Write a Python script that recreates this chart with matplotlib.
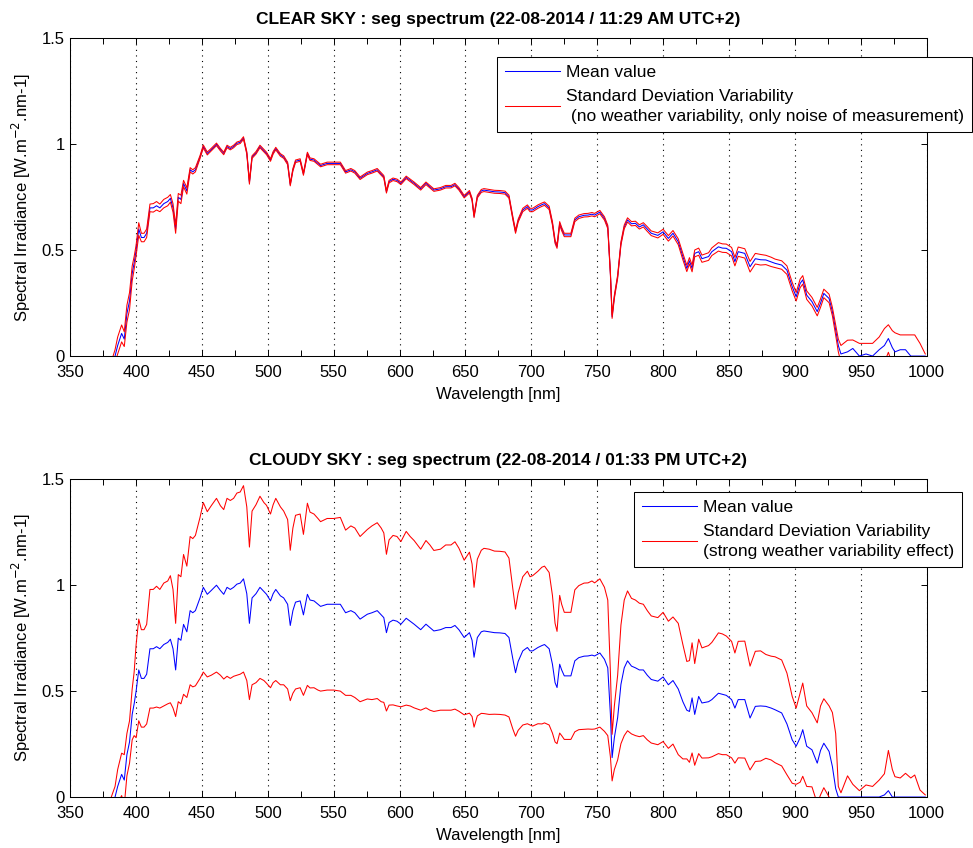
import matplotlib
matplotlib.use('Agg')
import matplotlib.pyplot as plt
from matplotlib.ticker import MultipleLocator, FormatStrFormatter

plt.rcParams['font.family'] = ['Liberation Sans', 'DejaVu Sans']
plt.rcParams['font.size'] = 12

# wavelength grid, part a (up to ~775 nm) and part b (after)
wl_a = [380, 384, 386, 389, 391, 393, 395, 397, 398.5, 400,
        402, 404, 406, 408, 410.5, 413, 415.5, 418, 421, 424,
        426, 428, 430, 432, 434, 436, 438.5, 441, 443, 445,
        448.5, 451, 454, 457, 461, 464, 466.5, 469, 471.5, 474,
        476.5, 479, 481.5, 484, 486, 488, 491, 494, 497, 499,
        502, 504, 506, 509.5, 512, 515, 517, 519, 521, 524.5,
        527, 530, 532, 535, 538, 540, 545, 550, 555, 559,
        563, 566, 570, 575.5, 579, 583, 586, 588, 590, 592,
        595, 598, 601, 605, 608, 611, 616, 620, 623, 626,
        631, 635, 639, 642, 645, 649, 653, 655, 656.5, 659,
        662, 664, 668, 672, 676, 680, 683, 686, 688, 690,
        693.5, 697, 699, 701, 705, 708, 710, 713.5, 716, 718,
        719.5, 721.5, 723, 725, 730, 733, 736, 740, 743, 746,
        748, 752, 755.5, 758, 760, 761.3, 763, 765.5, 768, 770.5,
        773]
wl_b = [776, 779, 782, 785, 788, 791, 796, 800, 804, 807.5,
        811.5, 815, 818, 820, 822, 824, 827, 829.5, 834.5, 837,
        842, 845, 848, 852, 854.5, 857, 862, 866, 870, 874,
        878, 882, 885, 890, 894, 898, 901, 904, 906, 909,
        913, 917, 919.5, 922, 926, 928.5, 931, 933, 935, 940,
        944, 949, 954, 959, 964, 968, 971, 974, 976, 980,
        984, 988, 991, 995, 999]

# mean spectrum (same for both skies below ~775 nm)
mean_a = [-0.05, 0.0, 0.05, 0.107, 0.08, 0.2, 0.26, 0.39, 0.44, 0.5,
          0.6, 0.56, 0.56, 0.58, 0.7, 0.70, 0.71, 0.70, 0.72, 0.73,
          0.745, 0.70, 0.6, 0.75, 0.74, 0.815, 0.78, 0.88, 0.87, 0.88,
          0.94, 0.99, 0.957, 0.975, 1.0, 0.975, 0.957, 0.99, 0.98, 0.99,
          1.005, 1.01, 1.03, 0.96, 0.82, 0.94, 0.96, 0.99, 0.97, 0.957,
          0.926, 0.96, 0.98, 0.95, 0.94, 0.91, 0.81, 0.88, 0.92, 0.926,
          0.86, 0.957, 0.93, 0.926, 0.91, 0.90, 0.91, 0.91, 0.91, 0.87,
          0.88, 0.87, 0.84, 0.863, 0.87, 0.88, 0.86, 0.847, 0.776, 0.824,
          0.835, 0.83, 0.816, 0.844, 0.83, 0.816, 0.79, 0.816, 0.80, 0.784,
          0.79, 0.80, 0.80, 0.81, 0.79, 0.753, 0.776, 0.74, 0.66, 0.753,
          0.78, 0.784, 0.78, 0.776, 0.775, 0.772, 0.753, 0.65, 0.587, 0.64,
          0.69, 0.706, 0.69, 0.69, 0.706, 0.715, 0.72, 0.70, 0.627, 0.54,
          0.517, 0.627, 0.60, 0.572, 0.572, 0.643, 0.658, 0.665, 0.666, 0.67,
          0.666, 0.68, 0.65, 0.61, 0.39, 0.186, 0.28, 0.375, 0.532, 0.61,
          0.643]
clear_mean_b = [0.625, 0.627, 0.61, 0.62, 0.60, 0.58, 0.57, 0.587, 0.556, 0.58,
                0.54, 0.47, 0.414, 0.45, 0.414, 0.485, 0.493, 0.46, 0.47, 0.493,
                0.516, 0.51, 0.509, 0.493, 0.446, 0.493, 0.485, 0.422, 0.46, 0.455,
                0.454, 0.445, 0.438, 0.43, 0.406, 0.328, 0.28, 0.343, 0.36, 0.288,
                0.257, 0.21, 0.25, 0.296, 0.272, 0.21, 0.123, 0.05, 0.01, 0.02,
                0.036, 0.0, 0.01, 0.0, 0.03, 0.05, 0.083, 0.04, 0.02, 0.03,
                0.03, 0.0, 0.0, 0.0, 0.0]
cloudy_mean_b = [0.618, 0.61, 0.60, 0.60, 0.575, 0.555, 0.547, 0.567, 0.53, 0.55,
                 0.51, 0.45, 0.41, 0.404, 0.468, 0.39, 0.475, 0.444, 0.45, 0.46,
                 0.49, 0.485, 0.48, 0.46, 0.42, 0.46, 0.46, 0.373, 0.428, 0.43,
                 0.428, 0.42, 0.412, 0.397, 0.345, 0.27, 0.24, 0.28, 0.318, 0.24,
                 0.223, 0.16, 0.22, 0.254, 0.215, 0.144, 0.04, 0.0, 0.0, 0.0,
                 0.0, 0.0, 0.0, 0.0, 0.0, 0.01, 0.03, 0.0, 0.0, 0.0,
                 0.0, 0.0, 0.0, 0.0, 0.0]

# standard deviation, clear sky
clear_std_a = [0.0, 0.03, 0.04, 0.04, 0.035, 0.04, 0.04, 0.035, 0.03, 0.025,
               0.03, 0.02, 0.02, 0.02, 0.018, 0.02, 0.02, 0.018, 0.02, 0.02,
               0.018, 0.02, 0.02, 0.018, 0.02, 0.015, 0.015, 0.01, 0.01, 0.01,
               0.007, 0.007, 0.007, 0.006, 0.006, 0.006, 0.006, 0.006, 0.006, 0.006,
               0.006, 0.006, 0.006, 0.006, 0.008, 0.006, 0.006, 0.006, 0.006, 0.006,
               0.006, 0.006, 0.006, 0.006, 0.006, 0.006, 0.006, 0.006, 0.006, 0.006,
               0.006, 0.006, 0.006, 0.006, 0.006, 0.006, 0.006, 0.006, 0.006, 0.006,
               0.006, 0.006, 0.006, 0.006, 0.006, 0.006, 0.006, 0.006, 0.006, 0.006,
               0.006, 0.006, 0.006, 0.006, 0.006, 0.006, 0.006, 0.006, 0.006, 0.006,
               0.006, 0.006, 0.006, 0.006, 0.006, 0.006, 0.006, 0.006, 0.006, 0.006,
               0.007, 0.007, 0.007, 0.007, 0.007, 0.007, 0.007, 0.007, 0.007, 0.007,
               0.008, 0.008, 0.008, 0.008, 0.008, 0.008, 0.008, 0.008, 0.008, 0.008,
               0.008, 0.008, 0.008, 0.008, 0.008, 0.008, 0.008, 0.008, 0.008, 0.008,
               0.008, 0.008, 0.008, 0.008, 0.008, 0.008, 0.008, 0.008, 0.008, 0.009,
               0.01]
clear_std_b = [0.01, 0.01, 0.01, 0.01, 0.011, 0.011, 0.012, 0.012, 0.013, 0.013,
               0.014, 0.015, 0.015, 0.015, 0.016, 0.016, 0.017, 0.017, 0.018, 0.018,
               0.02, 0.02, 0.02, 0.02, 0.02, 0.022, 0.022, 0.025, 0.025, 0.025,
               0.022, 0.022, 0.02, 0.02, 0.02, 0.02, 0.02, 0.02, 0.02, 0.02,
               0.02, 0.02, 0.02, 0.02, 0.02, 0.02, 0.025, 0.03, 0.04, 0.055,
               0.04, 0.06, 0.05, 0.06, 0.06, 0.08, 0.065, 0.08, 0.09, 0.07,
               0.07, 0.1, 0.1, 0.06, 0.01]

# standard deviation, cloudy sky
cloudy_std_a = [0.03, 0.05, 0.08, 0.1, 0.12, 0.1, 0.1, 0.12, 0.15, 0.22,
                0.24, 0.23, 0.23, 0.235, 0.28, 0.28, 0.285, 0.28, 0.29, 0.29,
                0.30, 0.28, 0.22, 0.30, 0.30, 0.33, 0.31, 0.35, 0.35, 0.355,
                0.38, 0.40, 0.39, 0.40, 0.41, 0.40, 0.40, 0.42, 0.42, 0.42,
                0.43, 0.43, 0.44, 0.41, 0.36, 0.41, 0.42, 0.43, 0.42, 0.42,
                0.41, 0.42, 0.43, 0.42, 0.41, 0.40, 0.355, 0.39, 0.41, 0.41,
                0.38, 0.43, 0.415, 0.41, 0.405, 0.40, 0.405, 0.405, 0.41, 0.39,
                0.40, 0.40, 0.39, 0.40, 0.41, 0.415, 0.41, 0.40, 0.37, 0.39,
                0.40, 0.40, 0.39, 0.41, 0.40, 0.395, 0.38, 0.395, 0.39, 0.38,
                0.38, 0.39, 0.39, 0.395, 0.385, 0.365, 0.38, 0.36, 0.33, 0.37,
                0.385, 0.39, 0.39, 0.385, 0.385, 0.385, 0.375, 0.33, 0.30, 0.325,
                0.35, 0.36, 0.35, 0.355, 0.36, 0.37, 0.37, 0.36, 0.325, 0.28,
                0.265, 0.325, 0.31, 0.30, 0.30, 0.335, 0.34, 0.345, 0.345, 0.35,
                0.345, 0.35, 0.34, 0.32, 0.2, 0.11, 0.15, 0.2, 0.28, 0.32,
                0.33]
cloudy_std_b = [0.32, 0.32, 0.315, 0.31, 0.305, 0.30, 0.30, 0.305, 0.30, 0.30,
                0.31, 0.27, 0.23, 0.24, 0.26, 0.24, 0.27, 0.26, 0.265, 0.27,
                0.285, 0.285, 0.28, 0.275, 0.26, 0.275, 0.276, 0.245, 0.26, 0.26,
                0.245, 0.245, 0.25, 0.25, 0.24, 0.205, 0.18, 0.21, 0.22, 0.19,
                0.175, 0.19, 0.21, 0.21, 0.215, 0.255, 0.26, 0.05, 0.02, 0.1,
                0.06, 0.03, 0.057, 0.05, 0.08, 0.1, 0.19, 0.13, 0.096, 0.09,
                0.112, 0.09, 0.104, 0.033, 0.01]

wl = wl_a + wl_b
clear_mean = mean_a + clear_mean_b
clear_std = clear_std_a + clear_std_b
cloudy_mean = mean_a + cloudy_mean_b
cloudy_std = cloudy_std_a + cloudy_std_b

titles = ['CLEAR SKY : seg spectrum (22-08-2014 / 11:29 AM UTC+2)',
          'CLOUDY SKY : seg spectrum (22-08-2014 / 01:33 PM UTC+2)']
std_labels = ['Standard Deviation Variability\n (no weather variability, only noise of measurement)',
              'Standard Deviation Variability\n(strong weather variability effect)']
legend_pos = [(0.498, 0.942), (0.658, 0.96)]

fig = plt.figure(figsize=(9.73, 8.48), dpi=100)
ax1 = fig.add_axes([0.0722, 0.5801, 0.8801, 0.3745])
ax2 = fig.add_axes([0.0722, 0.0601, 0.8801, 0.3747])

panels = [(ax1, clear_mean, clear_std), (ax2, cloudy_mean, cloudy_std)]
for i, (ax, m, s) in enumerate(panels):
    up = [a + b for a, b in zip(m, s)]
    lo = [a - b for a, b in zip(m, s)]
    ax.plot(wl, m, color='b', linewidth=0.75, label='Mean value')
    ax.plot(wl, up, color='r', linewidth=0.75, label=std_labels[i])
    ax.plot(wl, lo, color='r', linewidth=0.75)
    ax.set_xlim(350, 1000)
    ax.set_ylim(0, 1.5)
    ax.xaxis.set_major_locator(MultipleLocator(50))
    ax.xaxis.set_minor_locator(MultipleLocator(25))
    ax.yaxis.set_major_locator(MultipleLocator(0.5))
    ax.yaxis.set_major_formatter(FormatStrFormatter('%g'))
    ax.tick_params(which='both', direction='in', top=True, right=True,
                   length=4, width=0.7, labelsize=12)
    ax.tick_params(axis='x', which='both', pad=6.5)
    ax.tick_params(axis='y', which='both', pad=4)
    ax.xaxis.grid(True, which='major', linestyle=(0, (1, 4)), color='k', linewidth=0.8)
    for sp in ax.spines.values():
        sp.set_linewidth(0.75)
    ax.set_title(titles[i], fontsize=12.5, fontweight='bold', pad=10.5)
    ax.set_xlabel('Wavelength [nm]', fontsize=12, labelpad=5)
    ax.set_ylabel('Spectral Irradiance [W.m$^{-2}$.nm-1]', fontsize=12, labelpad=6)
    leg = ax.legend(loc='upper left', bbox_to_anchor=legend_pos[i], fontsize=12.5,
                    fancybox=False, framealpha=1, edgecolor='k', handlelength=3.2,
                    handletextpad=0.35, labelspacing=0.5, borderpad=0.45,
                    borderaxespad=0)
    for t in leg.get_texts():
        t.set_linespacing(1.45)
    leg.get_frame().set_linewidth(0.75)

plt.savefig('out.png', dpi=100)
